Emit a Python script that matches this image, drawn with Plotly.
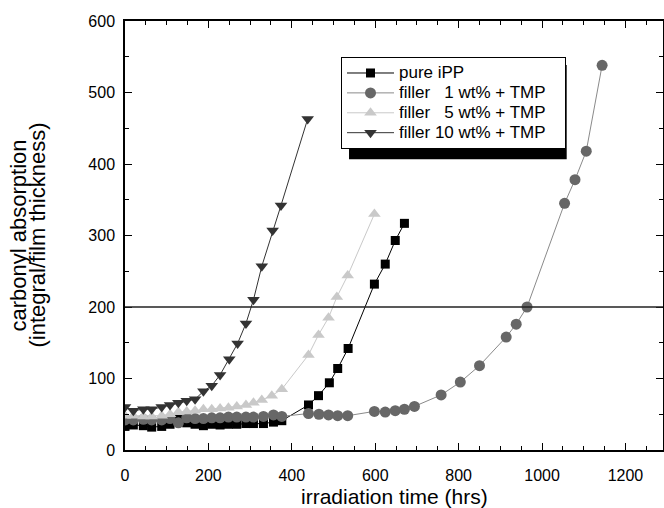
import plotly.graph_objects as go

# ---- data ----
ipp_x = [0, 20, 44, 64, 88, 108, 128, 148, 168, 188, 208, 228, 248, 268, 290, 308, 332, 356, 376,
         440, 464, 490, 510, 535, 598, 624, 648, 670]
ipp_y = [33, 35, 34, 32, 33, 36, 43, 38, 36, 34, 36, 35, 36, 36, 37, 37, 37, 39, 41,
         63, 76, 94, 114, 142, 232, 260, 293, 317]

f1_x = [0, 20, 44, 64, 88, 108, 128, 148, 168, 188, 208, 228, 248, 268, 290, 308, 332, 356, 376,
        440, 465, 488, 510, 534, 598, 624, 648, 670, 694, 758, 804, 850, 914, 938, 964, 1054, 1079, 1106, 1144]
f1_y = [42, 42, 43, 42, 42, 44, 38, 45, 44, 44, 45, 45, 46, 46, 46, 46, 47, 49, 47,
        51, 50, 49, 48, 48, 54, 53, 55, 57, 61, 77, 95, 118, 158, 176, 200, 345, 378, 418, 538]

f5_x = [0, 20, 44, 64, 88, 108, 128, 148, 168, 188, 208, 228, 248, 268, 290, 308, 328, 352, 376,
        440, 464, 488, 508, 534, 598]
f5_y = [48, 48, 47, 47, 48, 50, 53, 54, 55, 57, 57, 58, 59, 61, 63, 66, 70, 76, 85,
        133, 161, 185, 214, 244, 330]

f10_x = [0, 20, 44, 64, 88, 108, 128, 148, 168, 188, 208, 228, 250, 270, 290, 308, 328, 354, 374, 438]
f10_y = [60, 55, 57, 57, 60, 63, 66, 69, 71, 82, 90, 105, 127, 149, 177, 210, 257, 307, 342, 463]

names = ["pure iPP",
         "filler\u00a0\u00a0\u00a01 wt% + TMP",
         "filler\u00a0\u00a0\u00a05 wt% + TMP",
         "filler 10 wt% + TMP"]
ref_level = 200

x_ticks = [0, 200, 400, 600, 800, 1000, 1200]
y_ticks = [0, 100, 200, 300, 400, 500, 600]

x_title = "irradiation time (hrs)"
y_title_lines = ["carbonyl absorption", "(integral/film thickness)"]

FONT = "Liberation Sans, Arial, sans-serif"

fig = go.Figure()
series = [
    (ipp_x, ipp_y, names[0], "square", 9, "#000000", "#000000"),
    (f1_x, f1_y, names[1], "circle", 11, "#676767", "#8a8a8a"),
    (f5_x, f5_y, names[2], "triangle-up", 11, "#c9c9c9", "#c9c9c9"),
    (f10_x, f10_y, names[3], "triangle-down", 11, "#333333", "#333333"),
]
for xs, ys, nm, sym, sz, mcol, lcol in series:
    fig.add_trace(go.Scatter(
        x=xs, y=ys, name='<span style="font-size:17px">' + nm + '\u00a0\u00a0\u00a0</span>',
        mode="lines+markers",
        line=dict(color=lcol, width=1),
        marker=dict(symbol=sym, size=sz, color=mcol, line=dict(width=0)),
    ))

fig.add_shape(type="line", xref="paper", yref="y", x0=0, x1=1, y0=ref_level, y1=ref_level,
              line=dict(color="#222222", width=1.5))

# legend shadow (offset ~8 px right/down of the legend box)
fig.add_shape(type="rect", xref="paper", yref="paper", x0=0.4164, x1=0.821, y0=0.678, y1=0.8974,
              fillcolor="#000000", line=dict(width=0), layer="above")

axis_common = dict(
    showline=True, linecolor="#000000", linewidth=1.5, mirror="ticks",
    ticks="inside", ticklen=7, tickwidth=1.3, tickcolor="#000000",
    showgrid=False, zeroline=False, automargin=False,
    tickfont=dict(family=FONT, size=16, color="#000000"),
)

fig.update_layout(
    width=664, height=508,
    margin=dict(l=125, r=1, t=21, b=58),
    paper_bgcolor="white", plot_bgcolor="white",
    font=dict(family=FONT, color="#000000"),
    xaxis=dict(range=[0, 1290], tickvals=x_ticks, ticklabelstandoff=10,
               minor=dict(dtick=50, tick0=0, ticks="inside", ticklen=4, tickcolor="#000000"),
               **axis_common),
    yaxis=dict(range=[0, 600], tickvals=y_ticks, ticklabelstandoff=5,
               minor=dict(dtick=50, tick0=0, ticks="inside", ticklen=4, tickcolor="#000000"),
               **axis_common),
    legend=dict(x=0.4015, y=0.916, xanchor="left", yanchor="top",
                bgcolor="white", bordercolor="#000000", borderwidth=1,
                font=dict(family=FONT, size=13, color="#000000"),
                tracegroupgap=0, itemwidth=47),
    showlegend=True,
    annotations=[
        dict(text=x_title, xref="paper", yref="paper", x=0.5, y=0, yshift=-46,
             xanchor="center", yanchor="middle", showarrow=False,
             font=dict(family=FONT, size=21, color="#000000")),
        dict(text=y_title_lines[0], xref="paper", yref="paper", x=0, y=0.5, xshift=-107,
             textangle=-90, xanchor="center", yanchor="middle", showarrow=False,
             font=dict(family=FONT, size=22, color="#000000")),
        dict(text=y_title_lines[1], xref="paper", yref="paper", x=0, y=0.5, xshift=-88,
             textangle=-90, xanchor="center", yanchor="middle", showarrow=False,
             font=dict(family=FONT, size=22, color="#000000")),
    ],
)

fig.write_html("out.html", config={"displayModeBar": False},
               post_script="document.body.style.margin='0';document.body.style.overflow='hidden';")
